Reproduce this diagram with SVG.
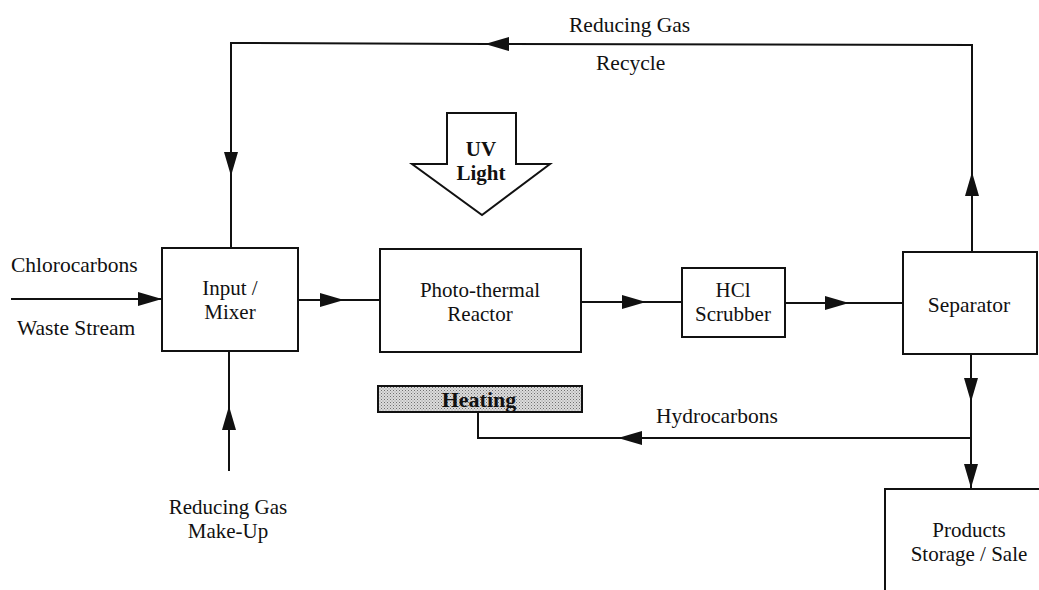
<svg xmlns="http://www.w3.org/2000/svg" width="1039" height="590" viewBox="0 0 1039 590">
  <style>
    .box { fill: #ffffff; stroke: #111111; stroke-width: 2; }
    .conn { fill: none; stroke: #111111; stroke-width: 2; stroke-linecap: square; }
    .lbl { font-family: "Liberation Serif", "Times New Roman", serif; font-size: 21.5px; fill: #111111; }
    .two { font-size: 21px; }
    .mid { text-anchor: middle; }
    .bold { font-weight: bold; font-size: 21px; }
  </style>
  <defs>
    <marker id="ah" viewBox="0 0 24 14" refX="24" refY="7" markerWidth="24" markerHeight="14" markerUnits="userSpaceOnUse" orient="auto">
      <path d="M0,0 L24,7 L0,14 z" fill="#111111"/>
    </marker>
    <pattern id="stipple" width="3" height="3" patternUnits="userSpaceOnUse">
      <rect width="3" height="3" fill="#dcdcdc"/>
      <rect x="0" y="0" width="1" height="1" fill="#707070"/>
      <rect x="1.5" y="1.5" width="1" height="1" fill="#909090"/>
    </pattern>
  </defs>
  <rect width="1039" height="590" fill="#ffffff"/>

  <g id="connectors">
    <path class="conn" d="M12 299 L162 299" marker-end="url(#ah)"/>
    <path class="conn" d="M298 300 L344 300 L380 300" marker-mid="url(#ah)"/>
    <path class="conn" d="M581 302 L646 302 L682 302" marker-mid="url(#ah)"/>
    <path class="conn" d="M785 303 L849 303 L903 303" marker-mid="url(#ah)"/>
    <path class="conn" d="M972 252 L972 172 L972 45" marker-mid="url(#ah)"/>
    <path class="conn" d="M972 45 L485 44 L231 43" marker-mid="url(#ah)"/>
    <path class="conn" d="M231 43 L231 176 L231 247" marker-mid="url(#ah)"/>
    <path class="conn" d="M229 470 L229 406 L229 351" marker-mid="url(#ah)"/>
    <path class="conn" d="M971 354 L971 402 L971 488" marker-mid="url(#ah)" marker-end="url(#ah)"/>
    <path class="conn" d="M971 438 L618 438 L478 438" marker-mid="url(#ah)"/>
    <path class="conn" d="M478 438 L478 412"/>
  </g>

  <g id="uv-light">
    <polygon class="box" points="447,113 516,113 516,164 550,164 482,215 412,164 447,164"/>
    <text class="lbl mid bold" x="481" y="156">UV</text>
    <text class="lbl mid bold" x="481" y="180">Light</text>
  </g>

  <g id="input-mixer">
    <rect class="box" x="162" y="248" width="136" height="103"/>
    <text class="lbl two mid" x="230" y="295">Input /</text>
    <text class="lbl two mid" x="230" y="318.5">Mixer</text>
  </g>

  <g id="reactor">
    <rect class="box" x="380" y="249" width="201" height="103"/>
    <text class="lbl two mid" x="480" y="297">Photo-thermal</text>
    <text class="lbl two mid" x="480" y="320.5">Reactor</text>
  </g>

  <g id="scrubber">
    <rect class="box" x="682" y="268" width="103" height="69"/>
    <text class="lbl two mid" x="733" y="297">HCl</text>
    <text class="lbl two mid" x="733" y="320.5">Scrubber</text>
  </g>

  <g id="separator">
    <rect class="box" x="903" y="252" width="134" height="102"/>
    <text class="lbl mid" x="969" y="312">Separator</text>
  </g>

  <g id="heating">
    <rect x="378" y="386" width="204" height="26" fill="url(#stipple)" stroke="#111111" stroke-width="2"/>
    <text class="lbl mid" x="479" y="407" style="font-weight:bold;font-size:22px">Heating</text>
  </g>

  <g id="products">
    <rect class="box" x="885" y="489" width="200" height="150"/>
    <text class="lbl two mid" x="969" y="537">Products</text>
    <text class="lbl two mid" x="969" y="560.5">Storage / Sale</text>
  </g>

  <g id="labels">
    <text class="lbl" x="569" y="32">Reducing Gas</text>
    <text class="lbl" x="596" y="70">Recycle</text>
    <text class="lbl" x="11" y="272">Chlorocarbons</text>
    <text class="lbl" x="17" y="335">Waste Stream</text>
    <text class="lbl" x="656" y="423">Hydrocarbons</text>
    <text class="lbl two mid" x="228" y="514">Reducing Gas</text>
    <text class="lbl two mid" x="228" y="537.5">Make-Up</text>
  </g>
</svg>
